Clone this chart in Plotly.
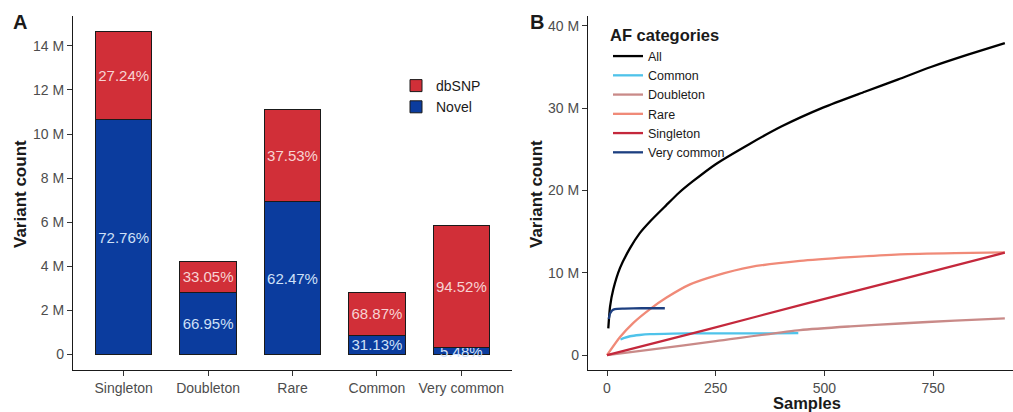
import plotly.graph_objects as go

# ---------------- Panel A data (values in millions) ----------------
categories = ["Singleton", "Doubleton", "Rare", "Common", "Very common"]
novel = [10.66, 2.83, 6.93, 0.88, 0.32]
dbsnp = [3.99, 1.40, 4.16, 1.94, 5.54]
novel_pct = ["72.76%", "66.95%", "62.47%", "31.13%", "5.48%"]
dbsnp_pct = ["27.24%", "33.05%", "37.53%", "68.87%", "94.52%"]
a_ticks = [0, 2, 4, 6, 8, 10, 12, 14]
a_ticktext = ["0", "2 M", "4 M", "6 M", "8 M", "10 M", "12 M", "14 M"]

# ---------------- Panel B data (values in millions) ----------------
all_x = [3, 7, 14.5, 30, 53, 75, 100, 136, 165, 197, 250, 326, 402, 498, 593, 670, 745, 830, 915]
all_y = [3.25, 5.9, 8.0, 10.6, 13.0, 14.8, 16.3, 18.2, 19.7, 21.1, 23.2, 25.6, 27.8, 30.1, 32.0, 33.5, 35.0, 36.5, 37.9]
common_x = [31, 40, 53, 75, 99, 150, 214, 300, 380, 440]
common_y = [1.9, 2.1, 2.3, 2.45, 2.55, 2.62, 2.65, 2.66, 2.66, 2.68]
doubleton_x = [0, 100, 250, 444, 560, 674, 800, 915]
doubleton_y = [0, 0.68, 1.7, 3.05, 3.5, 3.85, 4.2, 4.46]
rare_x = [0, 30, 60, 99, 137, 191, 252, 329, 444, 560, 674, 800, 915]
rare_y = [0, 2.2, 3.9, 5.6, 7.0, 8.6, 9.7, 10.7, 11.45, 11.9, 12.25, 12.4, 12.48]
singleton_x = [0, 230, 460, 690, 915]
singleton_y = [0, 3.1, 6.3, 9.4, 12.45]
vcommon_x = [4, 7, 12, 18, 40, 80, 133]
vcommon_y = [4.4, 5.05, 5.45, 5.6, 5.65, 5.7, 5.7]
b_yticks = [0, 10, 20, 30, 40]
b_yticktext = ["0", "10 M", "20 M", "30 M", "40 M"]
b_xticks = [0, 250, 500, 750]

FONT = "Liberation Sans, Arial, sans-serif"
W, H = 1013, 412
RED = "#d12f38"
BLUE = "#0b3c9e"

fig = go.Figure()

fig.add_trace(go.Bar(
    x=categories, y=novel, name="Novel", text=novel_pct,
    marker=dict(color=BLUE, line=dict(color="#1a1a1a", width=1)),
    textposition="inside", insidetextanchor="middle", textangle=0,
    constraintext="none", textfont=dict(size=15, color="#cfe0f7", family=FONT),
    width=0.67, xaxis="x", yaxis="y", legend="legend"))
fig.add_trace(go.Bar(
    x=categories, y=dbsnp, name="dbSNP", text=dbsnp_pct,
    marker=dict(color=RED, line=dict(color="#1a1a1a", width=1)),
    textposition="inside", insidetextanchor="middle", textangle=0,
    constraintext="none", textfont=dict(size=15, color="#f7d3d3", family=FONT),
    width=0.67, xaxis="x", yaxis="y", legend="legend"))

line_specs = [
    ("All", all_x, all_y, "#000000"),
    ("Common", common_x, common_y, "#4fc3ea"),
    ("Doubleton", doubleton_x, doubleton_y, "#c98a88"),
    ("Rare", rare_x, rare_y, "#f08a78"),
    ("Singleton", singleton_x, singleton_y, "#c4283c"),
    ("Very common", vcommon_x, vcommon_y, "#1d3f80"),
]
for name, xs, ys, col in line_specs:
    fig.add_trace(go.Scatter(
        x=xs, y=ys, name=name, mode="lines",
        line=dict(color=col, width=2.3, shape="spline", smoothing=0.6),
        xaxis="x2", yaxis="y2", legend="legend2"))

ydom = [(H - 370) / H, (H - 16) / H]
axis_common = dict(showline=True, linecolor="#1a1a1a", linewidth=1.3,
                   ticks="outside", ticklen=5, tickcolor="#333333", tickwidth=1.1,
                   tickfont=dict(size=14, color="#4d4d4d", family=FONT),
                   showgrid=False, zeroline=False)

fig.update_layout(
    width=W, height=H, margin=dict(l=0, r=0, t=0, b=0),
    paper_bgcolor="white", plot_bgcolor="white",
    font=dict(family=FONT, color="#1a1a1a"),
    barmode="stack", bargap=0.33,
    xaxis=dict(domain=[73 / W, 512 / W], range=[-0.6, 4.6], anchor="y", **axis_common),
    yaxis=dict(domain=ydom, range=[-0.7, 15.35], anchor="x",
               tickvals=a_ticks, ticktext=a_ticktext, **axis_common),
    xaxis2=dict(domain=[588 / W, 1.0], range=[-43.7, 933.8], anchor="y2",
                tickvals=b_xticks, **axis_common),
    yaxis2=dict(domain=ydom, range=[-1.8, 41.2], anchor="x2",
                tickvals=b_yticks, ticktext=b_yticktext, **axis_common),
    legend=dict(x=396 / W, y=(H - 70) / H, xanchor="left", yanchor="top",
                traceorder="reversed", bgcolor="rgba(0,0,0,0)",
                font=dict(size=14, color="#1a1a1a", family=FONT), itemwidth=30),
    legend2=dict(x=608 / W, y=(H - 20) / H, xanchor="left", yanchor="top",
                 bgcolor="rgba(0,0,0,0)", itemwidth=30,
                 title=dict(text="<b>AF categories</b>", font=dict(size=16.5, family=FONT, color="#1a1a1a")),
                 font=dict(size=12.5, color="#1a1a1a", family=FONT)),
    showlegend=True,
)

annots = [
    dict(text="<b>A</b>", x=20 / W, y=(H - 22) / H, font=dict(size=20)),
    dict(text="<b>B</b>", x=537 / W, y=(H - 22) / H, font=dict(size=20)),
    dict(text="<b>Variant count</b>", x=20 / W, y=(H - 194) / H, textangle=-90, font=dict(size=17)),
    dict(text="<b>Variant count</b>", x=536 / W, y=(H - 194) / H, textangle=-90, font=dict(size=17)),
    dict(text="<b>Samples</b>", x=807 / W, y=(H - 403) / H, font=dict(size=16.5)),
]
for a in annots:
    fig.add_annotation(xref="paper", yref="paper", showarrow=False,
                       xanchor="center", yanchor="middle",
                       **{k: v for k, v in a.items() if k != "font"},
                       font=dict(family=FONT, color="#1a1a1a", **a["font"]))

fig.write_html("out.html", config={"displayModeBar": False},
               post_script="document.body.style.margin='0';document.body.style.overflow='hidden';")
